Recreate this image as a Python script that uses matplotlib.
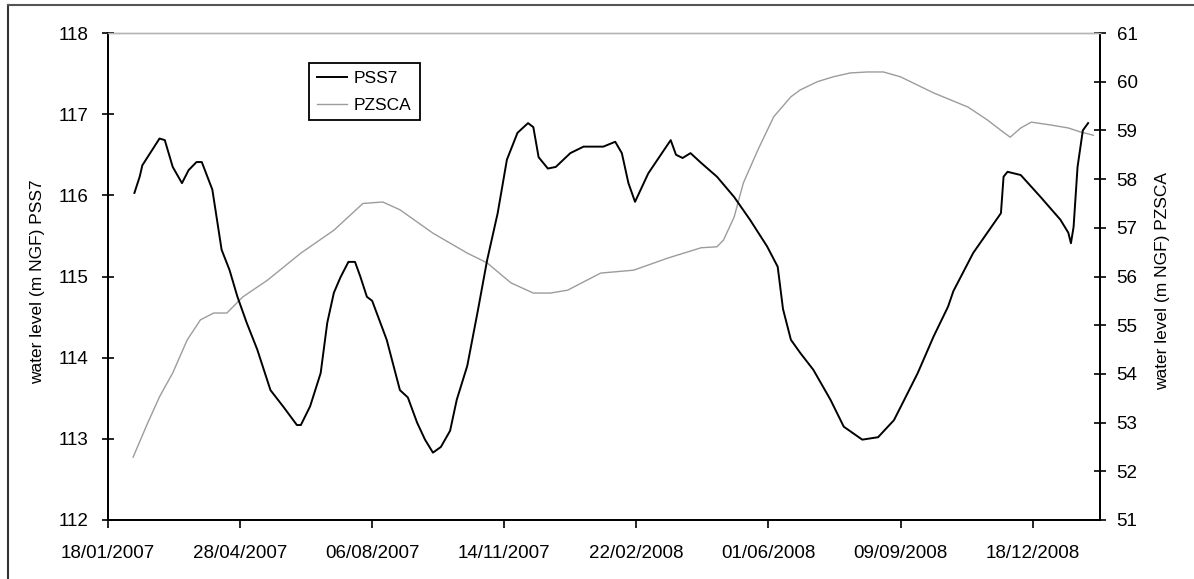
import numpy as np
import pandas as pd
import matplotlib
matplotlib.use('Agg')
import matplotlib.pyplot as plt
import matplotlib.dates as mdates
from matplotlib.lines import Line2D

plt.rcParams['font.family'] = ['Liberation Sans', 'DejaVu Sans']

# start of the series, all positions below are days after this date
START = pd.Timestamp('2007-01-18')

# PSS7 (left axis, m NGF)
pss7_day = [20, 24, 26, 39, 43, 49, 56, 61, 67, 71, 79, 86, 92, 98, 105, 113,
            123, 133, 143, 146, 153, 161, 166, 171, 176, 182, 187, 191, 196,
            200, 211, 221, 227, 234, 240, 246, 252, 259, 264, 272, 280, 287,
            295, 302, 310, 318, 322, 326, 333, 339, 350, 360, 375, 384, 389,
            394, 399, 409, 421, 426, 430, 435, 441, 449, 461, 474, 486, 499,
            507, 511, 517, 524, 534, 547, 557, 571, 583, 595, 600, 613, 625,
            636, 640, 655, 676, 678, 681, 691, 706, 721, 727, 729, 731, 734,
            738, 742]
pss7_val = [116.03, 116.23, 116.37, 116.70, 116.68, 116.35, 116.15, 116.31,
            116.41, 116.41, 116.07, 115.33, 115.08, 114.75, 114.43, 114.10,
            113.60, 113.39, 113.17, 113.17, 113.40, 113.81, 114.43, 114.80,
            114.99, 115.18, 115.18, 115.00, 114.75, 114.70, 114.22, 113.60,
            113.51, 113.20, 112.99, 112.83, 112.90, 113.10, 113.48, 113.90,
            114.58, 115.20, 115.78, 116.44, 116.77, 116.89, 116.84, 116.47,
            116.33, 116.35, 116.52, 116.60, 116.60, 116.66, 116.52, 116.15,
            115.92, 116.27, 116.56, 116.68, 116.50, 116.46, 116.52, 116.40,
            116.23, 115.98, 115.70, 115.37, 115.12, 114.60, 114.22, 114.06,
            113.85, 113.48, 113.15, 112.99, 113.02, 113.23, 113.39, 113.81,
            114.26, 114.63, 114.82, 115.29, 115.78, 116.23, 116.29, 116.25,
            115.98, 115.70, 115.54, 115.41, 115.61, 116.35, 116.80, 116.89]

# PZSCA (right axis, m NGF)
pzsca_day = [19, 30, 39, 49, 60, 70, 80, 90, 102, 121, 146, 171, 193, 208,
             221, 246, 272, 287, 305, 322, 335, 348, 373, 398, 424, 449, 461,
             466, 474, 481, 492, 504, 517, 524, 537, 549, 562, 575, 587, 600,
             625, 651, 666, 676, 683, 691, 699, 714, 727, 736, 746]
pzsca_val = [52.29, 52.99, 53.53, 54.02, 54.70, 55.11, 55.25, 55.25, 55.58,
             55.93, 56.48, 56.95, 57.50, 57.53, 57.37, 56.89, 56.48, 56.28,
             55.87, 55.66, 55.66, 55.72, 56.07, 56.13, 56.38, 56.59, 56.61,
             56.75, 57.22, 57.92, 58.60, 59.28, 59.69, 59.83, 60.00, 60.10,
             60.18, 60.20, 60.20, 60.10, 59.77, 59.48, 59.21, 59.00, 58.86,
             59.05, 59.17, 59.11, 59.05, 58.97, 58.90]

tick_days = [0, 100, 200, 300, 400, 500, 600, 700]
x_max_day = 751

pss7_x = START + pd.to_timedelta(pss7_day, unit='D')
pzsca_x = START + pd.to_timedelta(pzsca_day, unit='D')
ticks_x = START + pd.to_timedelta(tick_days, unit='D')

W, H = 1194, 579
fig = plt.figure(figsize=(W / 100, H / 100), dpi=100, facecolor='white')
ax = fig.add_axes([108 / W, 1 - 520 / H, (1100 - 108) / W, (520 - 33) / H])
ax2 = ax.twinx()
ax.set_zorder(ax2.get_zorder() + 1)
ax.patch.set_visible(False)

ax.plot(pss7_x, pss7_val, color='black', lw=1.4, label='PSS7')
ax2.plot(pzsca_x, pzsca_val, color='#9c9c9c', lw=1.0, label='PZSCA')

ax.set_xlim(START, START + pd.Timedelta(days=x_max_day))
ax.set_ylim(112, 118)
ax2.set_ylim(51, 61)
ax.set_yticks(np.arange(112, 119, 1))
ax2.set_yticks(np.arange(51, 62, 1))
ax.set_xticks(ticks_x)
ax.xaxis.set_major_formatter(mdates.DateFormatter('%d/%m/%Y'))

for a in (ax, ax2):
    for side in ('left', 'right', 'bottom'):
        a.spines[side].set_color('black')
        a.spines[side].set_linewidth(1.3)
    a.spines['top'].set_color('#b4b4b4')
    a.spines['top'].set_linewidth(1.0)

ax.tick_params(axis='x', direction='out', length=6, width=1.2, pad=12,
               labelsize=13.5)
ax.tick_params(axis='y', direction='inout', length=8, width=1.2, pad=10,
               labelsize=13.5)
ax2.tick_params(axis='y', direction='inout', length=8, width=1.2, pad=8,
                labelsize=13.5)

ax.set_ylabel('water level (m NGF) PSS7', fontsize=12.5)
ax2.set_ylabel('water level (m NGF) PZSCA', fontsize=12.5)
ax.yaxis.set_label_coords(-0.0635, 0.49)
ax2.yaxis.set_label_coords(1.0554, 0.49)

handles = ax.get_lines() + ax2.get_lines()
leg = ax.legend(handles, [h.get_label() for h in handles],
                loc='upper left', bbox_to_anchor=(0.2026, 0.938),
                borderaxespad=0, fontsize=12.5, handlelength=1.75,
                handletextpad=0.4, labelspacing=0.65, borderpad=0.45,
                fancybox=False, framealpha=1, edgecolor='black')
leg.get_frame().set_linewidth(1.3)

# outer chart frame (only left and top edges are inside the picture)
fig.add_artist(Line2D([8 / W, 8 / W], [0, 1 - 5 / H], transform=fig.transFigure,
                      color='#333333', lw=1.5))
fig.add_artist(Line2D([8 / W, 1], [1 - 5 / H, 1 - 5 / H], transform=fig.transFigure,
                      color='#555555', lw=1.5))

fig.savefig('out.png', dpi=100, facecolor='white')
